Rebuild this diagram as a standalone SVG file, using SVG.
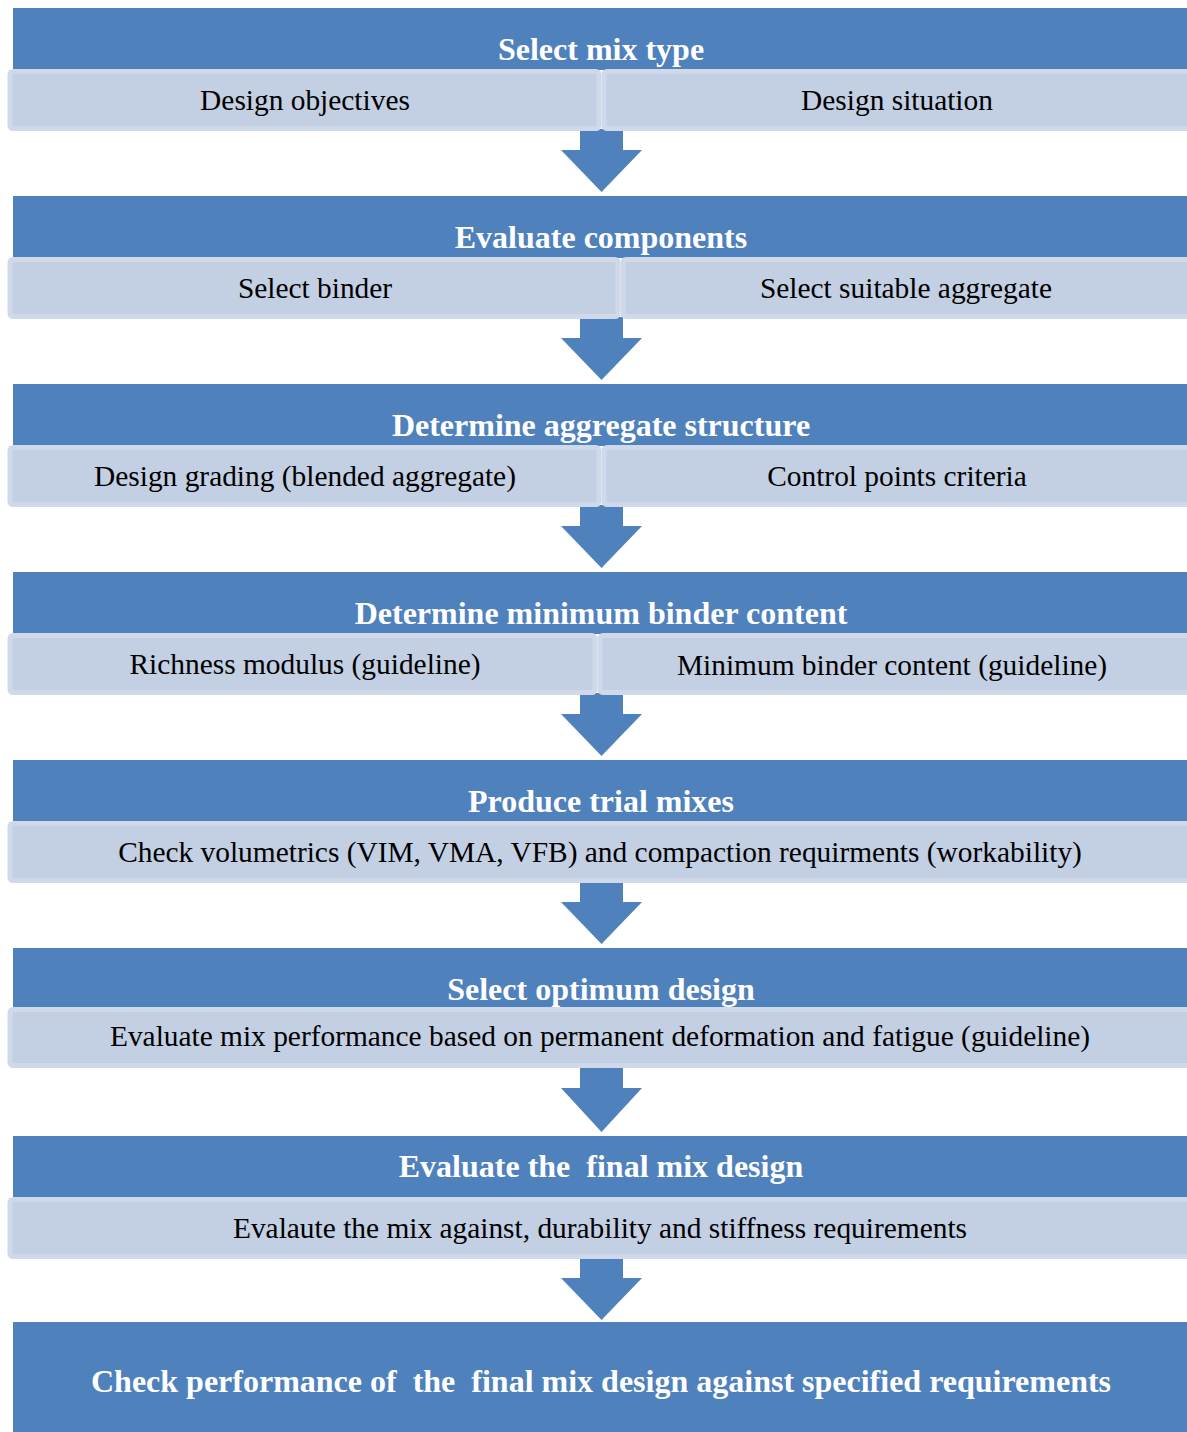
<svg xmlns="http://www.w3.org/2000/svg" width="1187" height="1432" viewBox="0 0 1187 1432">
<style>
.hdr{fill:#4f81bd;}
.sub{fill:#c3cfe2;stroke:#d0d9e9;stroke-width:5;}
.arr{fill:#4f81bd;}
.t{font-family:"Liberation Serif","Times New Roman",serif;font-size:29.4px;fill:#000;text-anchor:middle;}
.h{font-family:"Liberation Serif","Times New Roman",serif;font-size:32px;font-weight:bold;fill:#fff;text-anchor:middle;}
</style>
<rect width="1187" height="1432" fill="#fff"/>
<g id="connectors">
<path class="arr" d="M580,129 L623,129 L623,150 L642,150 L601.5,192 L561,150 L580,150 Z"/>
<path class="arr" d="M580,317 L623,317 L623,338 L642,338 L601.5,380 L561,338 L580,338 Z"/>
<path class="arr" d="M580,505 L623,505 L623,526 L642,526 L601.5,568 L561,526 L580,526 Z"/>
<path class="arr" d="M580,693 L623,693 L623,714 L642,714 L601.5,756 L561,714 L580,714 Z"/>
<path class="arr" d="M580,881 L623,881 L623,902 L642,902 L601.5,944 L561,902 L580,902 Z"/>
<path class="arr" d="M580,1066 L623,1066 L623,1088 L642,1088 L601.5,1132 L561,1088 L580,1088 Z"/>
<path class="arr" d="M580,1257 L623,1257 L623,1278 L642,1278 L601.5,1320 L561,1278 L580,1278 Z"/>
</g>
<g id="node1">
<rect class="hdr" x="13" y="8" width="1180" height="62"/>
<text class="h" x="601" y="60">Select mix type</text>
<rect class="sub" x="10" y="71.5" width="589" height="57" rx="3"/>
<rect class="sub" x="604" y="71.5" width="600" height="57" rx="3"/>
<text class="t" x="305" y="110">Design objectives</text>
<text class="t" x="897" y="110">Design situation</text>
</g>
<g id="node2">
<rect class="hdr" x="13" y="196" width="1180" height="62"/>
<text class="h" x="601" y="248">Evaluate components</text>
<rect class="sub" x="10" y="259.5" width="608" height="57" rx="3"/>
<rect class="sub" x="623" y="259.5" width="600" height="57" rx="3"/>
<text class="t" x="315" y="298">Select binder</text>
<text class="t" x="906" y="298">Select suitable aggregate</text>
</g>
<g id="node3">
<rect class="hdr" x="13" y="384" width="1180" height="62"/>
<text class="h" x="601" y="436">Determine aggregate structure</text>
<rect class="sub" x="10" y="447.5" width="589" height="57" rx="3"/>
<rect class="sub" x="604" y="447.5" width="600" height="57" rx="3"/>
<text class="t" x="305" y="486">Design grading (blended aggregate)</text>
<text class="t" x="897" y="486">Control points criteria</text>
</g>
<g id="node4">
<rect class="hdr" x="13" y="572" width="1180" height="62"/>
<text class="h" x="601" y="624">Determine minimum binder content</text>
<rect class="sub" x="10" y="635.5" width="585" height="57" rx="3"/>
<rect class="sub" x="600" y="635.5" width="600" height="57" rx="3"/>
<text class="t" x="305" y="674">Richness modulus (guideline)</text>
<text class="t" x="892" y="675">Minimum binder content (guideline)</text>
</g>
<g id="node5">
<rect class="hdr" x="13" y="760" width="1180" height="62"/>
<text class="h" x="601" y="812">Produce trial mixes</text>
<rect class="sub" x="10" y="823.5" width="1190" height="57" rx="3"/>
<text class="t" x="600" y="862">Check volumetrics (VIM, VMA, VFB) and compaction requirments (workability)</text>
</g>
<g id="node6">
<rect class="hdr" x="13" y="948" width="1180" height="62"/>
<text class="h" x="601" y="1000">Select optimum design</text>
<rect class="sub" x="10" y="1009.5" width="1190" height="56" rx="3"/>
<text class="t" x="600" y="1046">Evaluate mix performance based on permanent deformation and fatigue (guideline)</text>
</g>
<g id="node7">
<rect class="hdr" x="13" y="1136" width="1180" height="62"/>
<text class="h" x="601" y="1177" xml:space="preserve">Evaluate the  final mix design</text>
<rect class="sub" x="10" y="1199.5" width="1190" height="57" rx="3"/>
<text class="t" x="600" y="1238">Evalaute the mix against, durability and stiffness requirements</text>
</g>
<g id="node8">
<rect class="hdr" x="13" y="1322" width="1180" height="115"/>
<text class="h" x="601" y="1392" xml:space="preserve">Check performance of  the  final mix design against specified requirements</text>
</g>
</svg>
